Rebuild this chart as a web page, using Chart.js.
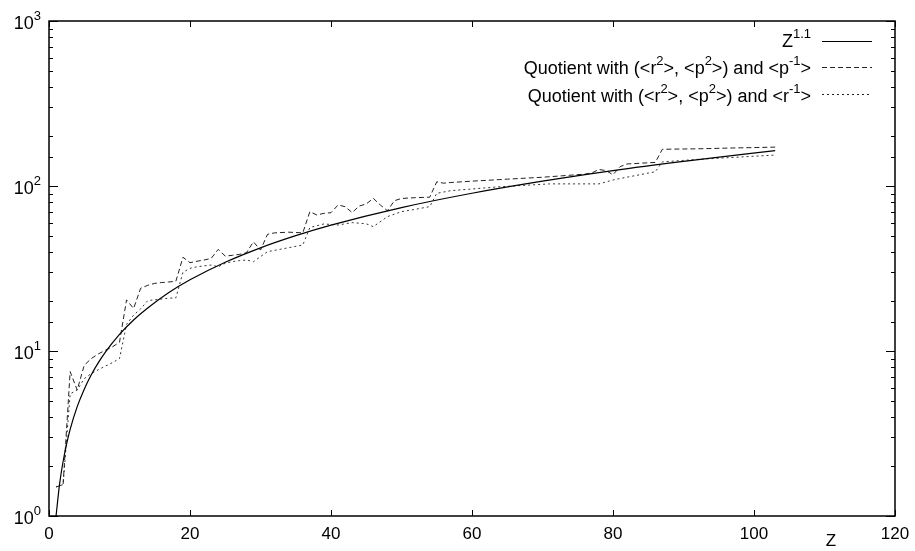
<!DOCTYPE html>
<html>
<head>
<meta charset="utf-8">
<script src="https://cdn.jsdelivr.net/npm/chart.js@4"></script>
<style>
  html, body { margin: 0; padding: 0; background: #fff; }
  #wrap { width: 915px; height: 551px; }
</style>
</head>
<body>
<div id="wrap"><canvas id="chart"></canvas></div>
<script>
// Z^1.1 reference curve
const fitZ   = [1, 1.5, 2, 2.5, 3, 4, 5, 6, 7, 8, 10, 12, 14, 17, 20, 25, 30, 35, 40, 50, 60, 70, 80, 90, 103];
const fitVal = [1, 1.56, 2.14, 2.74, 3.35, 4.6, 5.87, 7.18, 8.5, 9.85, 12.6, 15.4, 18.2, 22.6, 27, 34.5, 42.2, 50, 57.9, 74, 90.4, 107, 124, 141, 164];

// quotient with (<r2>, <p2>) and <p-1>  (dashed)
const pZ   = [1, 2, 3, 4, 5, 6, 7, 8, 9, 10, 11, 12, 13, 14, 15, 16, 17, 18, 19, 20, 21, 22, 23, 24, 25, 26, 27, 28, 29, 30,
              31, 32, 34, 36, 37, 38, 39, 40, 41, 42, 43, 44, 45, 46, 47, 48, 49, 50, 52, 54, 55, 56, 57, 60, 65, 70,
              76, 77, 78, 79, 80, 81, 82, 86, 87, 92, 97, 103];
const pVal = [1.5, 1.55, 7.5, 5.8, 8.2, 9.0, 9.6, 10.1, 10.6, 11.3, 20.4, 18.1, 24, 25, 25.7, 26, 26.2, 26.5, 37, 34.3, 35, 35.6, 36.4, 41.3, 37.6, 38, 38.5, 39.4, 45.9, 40.9,
              51, 52, 52.5, 52, 69.8, 66.7, 68.3, 68.9, 76.7, 75, 69, 75.6, 77.8, 84.2, 76.7, 70.8, 81.5, 84, 85, 85.5, 106, 104, 105, 107, 110, 113,
              118, 120, 126, 124, 117, 131, 136, 139, 167, 168, 170, 172];

// quotient with (<r2>, <p2>) and <r-1>  (dotted)
const rZ   = [1, 2, 3, 4, 5, 6, 7, 8, 9, 10, 11, 12, 13, 14, 17, 18, 19, 20, 21, 23, 24, 25, 26, 27, 28, 29, 30, 31, 33, 36,
              37, 39, 41, 43, 45, 46, 48, 50, 52, 54, 55, 57, 64, 71, 78, 80, 81, 86, 87, 92, 103];
const rVal = [1.5, 1.55, 5.5, 5.8, 6.8, 7.3, 7.7, 8.1, 8.5, 9.0, 14.5, 16.5, 18, 20.2, 20.9, 21, 30, 31.7, 32.4, 33.2, 32.4, 34, 34.8, 35.3, 35.6, 34.8, 37.3, 40, 41.5, 43.9,
              56, 58.9, 58, 60, 59, 56.7, 65.2, 69.9, 72.3, 75, 90.3, 93.7, 99, 103, 103, 108.7, 111, 122, 140, 145, 154];

const xTicks = [0, 20, 40, 60, 80, 100, 120];
const yDecades = [1, 10, 100, 1000];
const yExps = ["0", "1", "2", "3"];

// legend rows as [text, isSuperscript] pieces
const legendRows = [
  [["Z", false], ["1.1", true]],
  [["Quotient with (<r", false], ["2", true], [">, <p", false], ["2", true], [">) and <p", false], ["-1", true], [">", false]],
  [["Quotient with (<r", false], ["2", true], [">, <p", false], ["2", true], [">) and <r", false], ["-1", true], [">", false]]
];
const legendDash = [[], [5, 3], [2, 3]];

const FONT = "'Liberation Sans', Arial, sans-serif";

const pts = (xs, ys) => xs.map((x, i) => ({ x: x, y: ys[i] }));

function richText(ctx, pieces, right, y, size) {
  const supSize = Math.round(size * 0.7);
  let w = 0;
  pieces.forEach(([t, sup]) => {
    ctx.font = (sup ? supSize : size) + "px " + FONT;
    w += ctx.measureText(t).width;
  });
  let x = right - w;
  pieces.forEach(([t, sup]) => {
    ctx.font = (sup ? supSize : size) + "px " + FONT;
    ctx.fillText(t, x, sup ? y - size * 0.42 : y);
    x += ctx.measureText(t).width;
  });
}

const framePlugin = {
  id: "frame",
  afterDraw(chart) {
    const ctx = chart.ctx;
    const a = chart.chartArea;
    const xs = chart.scales.x;
    const ys = chart.scales.y;
    ctx.save();
    ctx.strokeStyle = "#000";
    ctx.lineWidth = 1.5;
    ctx.setLineDash([]);
    ctx.strokeRect(a.left, a.top, a.right - a.left, a.bottom - a.top);

    ctx.lineWidth = 1;
    ctx.beginPath();
    xTicks.forEach(v => {
      const px = Math.round(xs.getPixelForValue(v)) + 0.5;
      ctx.moveTo(px, a.bottom); ctx.lineTo(px, a.bottom - 6);
      ctx.moveTo(px, a.top); ctx.lineTo(px, a.top + 6);
    });
    ys.ticks.forEach(t => {
      const lg = Math.log10(t.value);
      const major = Math.abs(lg - Math.round(lg)) < 1e-6;
      const len = major ? 9 : 4;
      const py = Math.round(ys.getPixelForValue(t.value)) + 0.5;
      ctx.moveTo(a.left, py); ctx.lineTo(a.left + len, py);
      ctx.moveTo(a.right, py); ctx.lineTo(a.right - len, py);
    });
    ctx.stroke();

    // y tick labels 10^n
    ctx.fillStyle = "#000";
    ctx.textBaseline = "middle";
    yDecades.forEach((v, i) => {
      const py = ys.getPixelForValue(v);
      richText(ctx, [["10", false], [yExps[i], true]], a.left - 8, py + 3, 18);
    });

    // axis title
    ctx.font = "17px " + FONT;
    ctx.textAlign = "center";
    ctx.fillText("Z", 831, 541);
    ctx.textAlign = "left";

    // legend
    const rowY = [42, 69, 97];
    const lineY = [41, 67, 94];
    legendRows.forEach((row, i) => {
      richText(ctx, row, 811, rowY[i], 18);
      ctx.beginPath();
      ctx.setLineDash(legendDash[i]);
      ctx.strokeStyle = i === 0 ? "#000" : "#222";
      ctx.moveTo(822, lineY[i] + 0.5);
      ctx.lineTo(872, lineY[i] + 0.5);
      ctx.stroke();
    });
    ctx.restore();
  }
};

const ctx = document.getElementById("chart").getContext("2d");

new Chart(ctx, {
  type: "line",
  data: {
    datasets: [
      {
        label: "Z^1.1",
        data: pts(fitZ, fitVal),
        borderColor: "#000",
        borderWidth: 1.2,
        pointRadius: 0,
        cubicInterpolationMode: "monotone"
      },
      {
        label: "Quotient with (<r2>, <p2>) and <p-1>",
        data: pts(pZ, pVal),
        borderColor: "#222",
        borderWidth: 1,
        borderDash: [5, 3],
        pointRadius: 0,
        tension: 0
      },
      {
        label: "Quotient with (<r2>, <p2>) and <r-1>",
        data: pts(rZ, rVal),
        borderColor: "#333",
        borderWidth: 1,
        borderDash: [2, 3],
        pointRadius: 0,
        tension: 0
      }
    ]
  },
  options: {
    responsive: true,
    maintainAspectRatio: false,
    animation: false,
    layout: { padding: { top: 21, right: 20, left: 0, bottom: 0 } },
    plugins: {
      legend: { display: false },
      tooltip: { enabled: false }
    },
    scales: {
      x: {
        type: "linear",
        min: 0,
        max: 120,
        ticks: {
          stepSize: 20,
          color: "#000",
          padding: 0,
          font: { family: FONT, size: 17 }
        },
        grid: { display: false },
        border: { display: false },
        afterFit: s => { s.height = 35; }
      },
      y: {
        type: "logarithmic",
        min: 1,
        max: 1000,
        ticks: { display: false, autoSkip: false },
        grid: { display: false },
        border: { display: false },
        afterFit: s => { s.width = 49; }
      }
    }
  },
  plugins: [framePlugin]
});
</script>
</body>
</html>
